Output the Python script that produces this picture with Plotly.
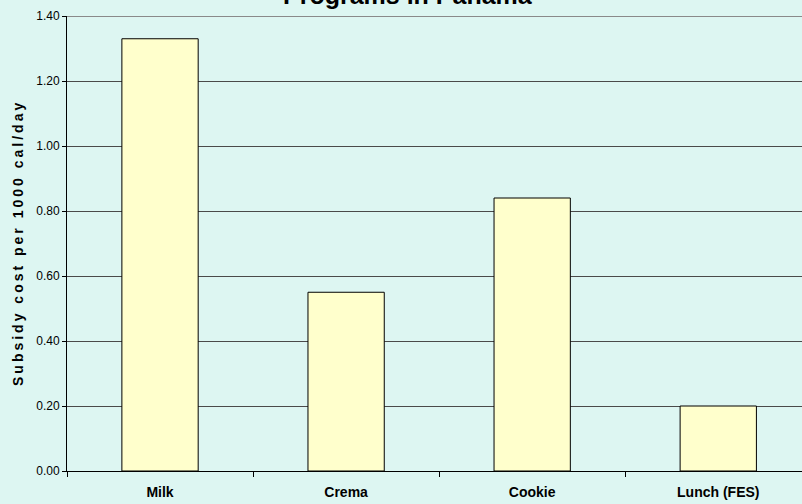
import plotly.graph_objects as go

categories = ["Milk", "Crema", "Cookie", "Lunch (FES)"]
values = [1.33, 0.55, 0.84, 0.20]
title_text = "Programs in Panama"
y_title = "Subsidy cost per 1000 cal/day"

BG = "#DDF6F2"
SANS = "Liberation Sans, Arial, sans-serif"

fig = go.Figure(go.Bar(
    x=categories, y=values, width=0.41,
    marker=dict(color="#FFFFCC", line=dict(color="#000000", width=1)),
))

fig.update_layout(
    width=802, height=504,
    margin=dict(l=67, r=0, t=16, b=33),
    paper_bgcolor=BG, plot_bgcolor=BG,
    showlegend=False,
    xaxis=dict(range=[-0.5, 3.45], showgrid=False, showline=True,
               linecolor="#000000", linewidth=1, ticks="outside",
               tickson="boundaries", ticklen=5, tickcolor="#000000",
               ticklabelstandoff=8,
               tickfont=dict(family=SANS, size=14, color="#000000", weight="bold")),
    yaxis=dict(range=[0, 1.4], dtick=0.2, tickformat=".2f",
               showgrid=True, gridcolor="#4A4A4A", gridwidth=1,
               showline=True, linecolor="#000000", linewidth=1,
               ticks="outside", ticklen=4, tickcolor="#000000",
               tickfont=dict(family=SANS, size=12, color="#000000"),
               zeroline=False),
    annotations=[
        dict(text="<b>" + y_title + "</b>", textangle=-90,
             xref="paper", yref="paper", x=(17 - 67) / 735, y=0.5,
             xanchor="center", yanchor="middle", showarrow=False,
             font=dict(family=SANS, size=14, color="#000000")),
        dict(text="<b>" + title_text + "</b>",
             xref="paper", yref="paper", x=(408 - 67) / 735, y=1 + 21 / 455,
             xanchor="center", yanchor="middle", showarrow=False,
             font=dict(family=SANS, size=25, color="#000000")),
    ],
    shapes=[dict(type="line", xref="paper", yref="y", x0=0, x1=1, y0=1.4, y1=1.4,
                 line=dict(color="#8A8A8A", width=2))],
)

post = (
    "document.body.style.margin='0';"
    "document.body.style.background='" + BG + "';"
    "document.querySelectorAll('.annotation[data-index=\"0\"] text').forEach(function(t){"
    "t.style.letterSpacing='3px';});"
)

fig.write_html("out.html", post_script=post, config={"displayModeBar": False})
